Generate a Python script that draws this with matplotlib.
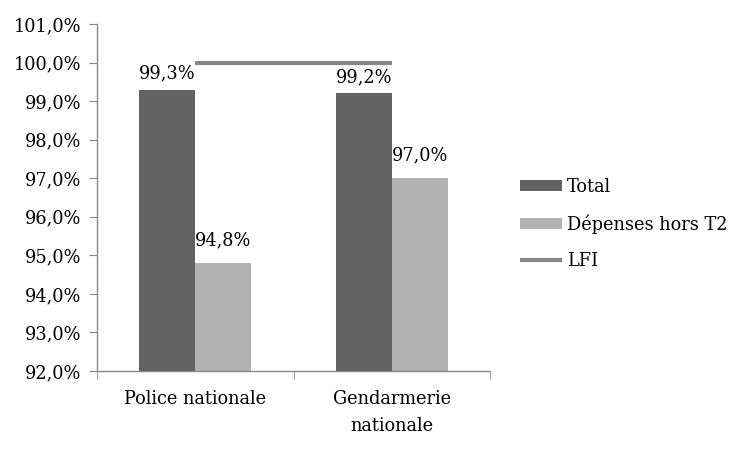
import matplotlib
matplotlib.use("Agg")
import matplotlib.pyplot as plt
from matplotlib.ticker import FixedLocator

categories = ["Police nationale", "Gendarmerie\nnationale"]
total = [99.3, 99.2]
hors_t2 = [94.8, 97.0]
lfi = [100.0, 100.0]
yticks = [92, 93, 94, 95, 96, 97, 98, 99, 100, 101]

plt.rcParams['font.family'] = ['DejaVu Serif']
fig = plt.figure(figsize=(7.5, 4.5), dpi=100)
ax = fig.add_axes([97/750, 1-371/450, (490-97)/750, (371-24)/450])

def fmt(v):
    return f"{v:.1f}".replace(".", ",") + "%"

FS = 12.8
w = 0.286
x = list(range(len(categories)))
b1 = ax.bar([i - w/2 for i in x], total, width=w, color="#626262", label="Total", zorder=2)
b2 = ax.bar([i + w/2 for i in x], hors_t2, width=w, color="#b2b2b2", label="Dépenses hors T2", zorder=2)
l1, = ax.plot(x, lfi, color="#878787", lw=3, label="LFI", zorder=3, solid_capstyle="butt")

for i, v in enumerate(total):
    ax.text(i - w/2, v + 0.42, fmt(v), ha="center", va="center", fontsize=FS)
for i, v in enumerate(hors_t2):
    ax.text(i + w/2, v + 0.59, fmt(v), ha="center", va="center", fontsize=FS)

ax.set_ylim(92, 101)
ax.set_xlim(-0.5, 1.5)
ax.set_yticks(yticks)
ax.set_yticklabels([fmt(v) for v in yticks], fontsize=FS)
ax.set_xticks(x)
ax.set_xticklabels(categories, fontsize=FS, linespacing=1.6, va="top")
ax.xaxis.set_minor_locator(FixedLocator([-0.5, 0.5, 1.5]))
ax.tick_params(axis="x", which="major", length=0, pad=14)
ax.tick_params(axis="x", which="minor", length=6, color="#888888", direction="out")
ax.tick_params(axis="y", length=6, color="#888888", direction="out", pad=5)
for s in ["top", "right"]:
    ax.spines[s].set_visible(False)
for s in ["left", "bottom"]:
    ax.spines[s].set_color("#888888")
    ax.spines[s].set_linewidth(1)

fig.legend([b1, b2, l1], ["Total", "Dépenses hors T2", "LFI"],
           loc="center left", bbox_to_anchor=(504/750, 1-224/450), frameon=False,
           fontsize=FS, handlelength=2.35, handleheight=0.6, labelspacing=1.05, handletextpad=0.3)

fig.savefig("out.png", dpi=100)
